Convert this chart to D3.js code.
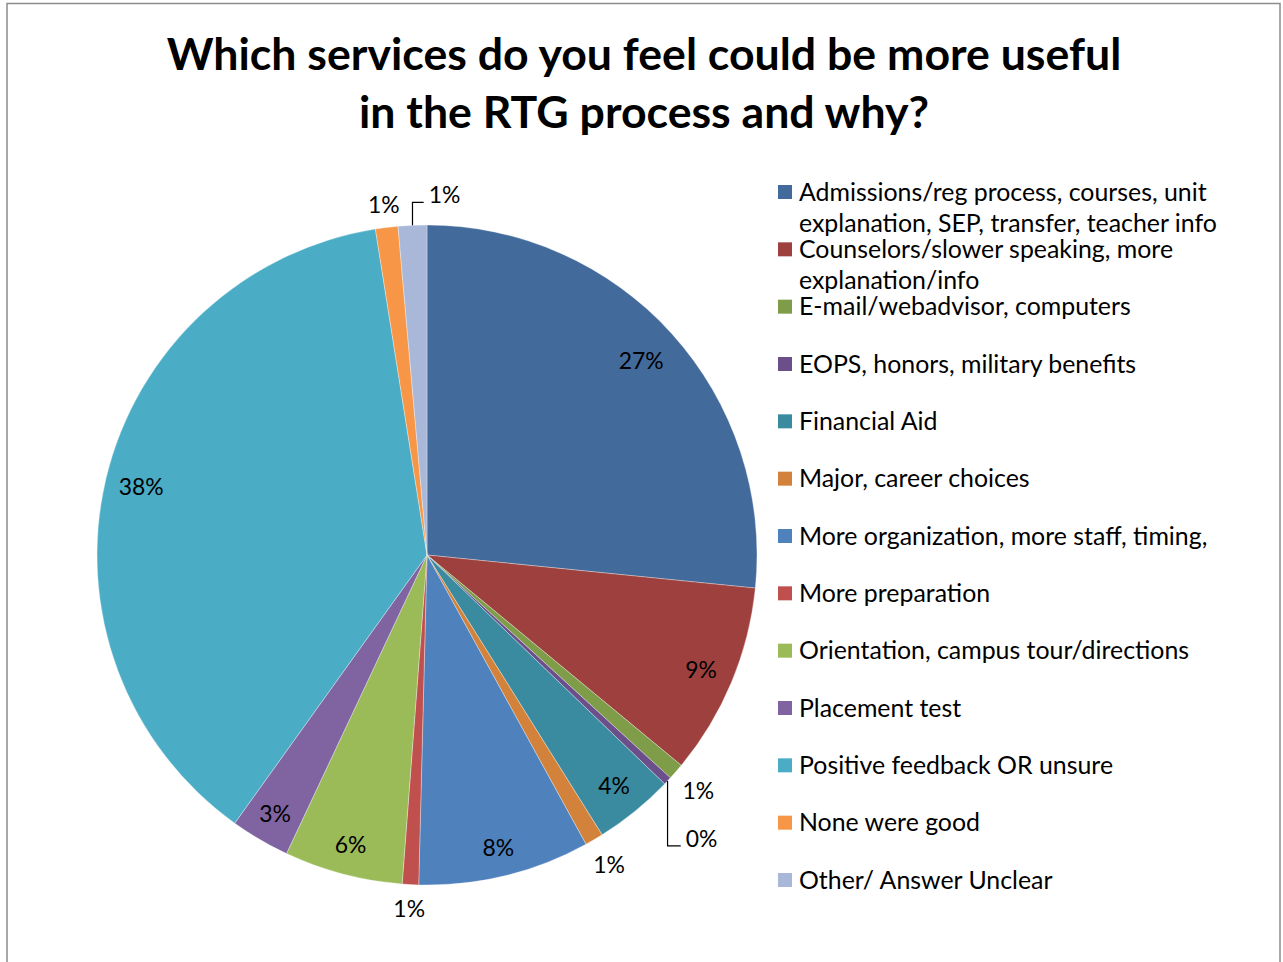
<!DOCTYPE html>
<html>
<head>
<meta charset="utf-8">
<script src="https://cdn.jsdelivr.net/npm/d3@7"></script>
<style>
  body { margin: 0; background: #fff; }
  svg { display: block; }
  text { font-family: Lato, "Open Sans", sans-serif; fill: #000; }
</style>
</head>
<body>
<svg id="chart" width="1283" height="962"></svg>
<script>
// ---- chart content ----
const titleLines = [
  "Which services do you feel could be more useful",
  "in the RTG process and why?"
];

const categories = [
  "Admissions/reg process, courses, unit explanation, SEP, transfer, teacher info",
  "Counselors/slower speaking, more explanation/info",
  "E-mail/webadvisor, computers",
  "EOPS, honors, military benefits",
  "Financial Aid",
  "Major, career choices",
  "More organization, more staff, timing,",
  "More preparation",
  "Orientation, campus tour/directions",
  "Placement test",
  "Positive feedback OR unsure",
  "None were good",
  "Other/ Answer Unclear"
];

// share of responses, percent
const values = [26.6, 9.4, 0.8, 0.4, 3.9, 0.9, 8.4, 0.8, 5.8, 2.9, 37.6, 1.1, 1.4];

const colors = [
  "#426a9b", "#9e413e", "#7f9c48", "#6a4f8b", "#3b8ba0", "#d2823a",
  "#4f81bd", "#c0504d", "#9bbb59", "#8064a2", "#4bacc6", "#f79646", "#a9b8d8"
];

// ---- layout ----
const W = 1283, H = 962;
const cx = 427, cy = 555, R = 330;

// label distance from centre (fraction of radius), per slice
const labelRadius = [0.875, 0.9, 1.09, 1.2, 0.9, 1.09, 0.915, 1.075, 0.91, 0.91, 0.89, 1.07, 1.09];
// slices whose labels sit off to the side on a leader line: offset from the rim point
const leaderOffset = { 3: [34, 58], 12: [32, -30] };

const svg = d3.select("#chart");

// chart frame
svg.append("rect")
  .attr("x", 7).attr("y", 3.5)
  .attr("width", 1273).attr("height", H)
  .attr("fill", "#fff")
  .attr("stroke", "#8c8c8c")
  .attr("stroke-width", 1.5);

// measure helper
const probe = svg.append("text").attr("x", -1000).attr("y", -1000);
function measure(str, size, weight) {
  probe.attr("font-size", size).attr("font-weight", weight || "normal").text(str);
  return probe.node().getComputedTextLength();
}
function fitSize(str, target, weight) {
  const base = 40;
  return base * target / measure(str, base, weight);
}

// ---- title ----
const titleSize = fitSize(titleLines[0], 955, "bold");
const title = svg.append("g");
titleLines.forEach((line, i) => {
  title.append("text")
    .attr("x", 644)
    .attr("y", 70 + i * 58)
    .attr("text-anchor", "middle")
    .attr("font-weight", "bold")
    .attr("font-size", titleSize)
    .text(line);
});

// ---- pie ----
const pie = d3.pie().sort(null).value(d => d)(values);
const total = d3.sum(values);
const fmt = d3.format(".0%");
const arc = d3.arc().innerRadius(0).outerRadius(R);

const g = svg.append("g").attr("transform", `translate(${cx},${cy})`);

g.selectAll("path.slice")
  .data(pie)
  .join("path")
  .attr("class", "slice")
  .attr("d", arc)
  .attr("fill", (d, i) => colors[i])
  .attr("stroke", "rgba(255,255,255,0.55)")
  .attr("stroke-width", 0.6);

const labelSize = fitSize("27%", 45);

function polar(angle, r) {
  return [r * Math.sin(angle), -r * Math.cos(angle)];
}

pie.forEach((d, i) => {
  const mid = (d.startAngle + d.endAngle) / 2;
  const label = fmt(d.value / total);
  let pos;
  if (leaderOffset[i]) {
    const rim = polar(mid, R);
    pos = [rim[0] + leaderOffset[i][0], rim[1] + leaderOffset[i][1]];
    const w = measure(label, labelSize);
    const elbowY = pos[1] + 7;
    const endX = pos[0] - w / 2 - 5;
    g.append("path")
      .attr("d", d3.line()([rim, [rim[0], elbowY], [endX, elbowY]]))
      .attr("fill", "none")
      .attr("stroke", "#000")
      .attr("stroke-width", 1.2);
  } else {
    pos = polar(mid, R * labelRadius[i]);
  }
  g.append("text")
    .attr("x", pos[0])
    .attr("y", pos[1])
    .attr("dy", "0.35em")
    .attr("text-anchor", "middle")
    .attr("font-size", labelSize)
    .text(label);
});

// ---- legend ----
const legendSize = fitSize("explanation, SEP, transfer, teacher info", 418);
const legendMax = 434;
const rowStep = (880 - 192) / 12;

function wrap(str) {
  const words = str.split(" ");
  const lines = [];
  let cur = "";
  words.forEach(wd => {
    const test = cur ? cur + " " + wd : wd;
    if (cur && measure(test, legendSize) > legendMax) {
      lines.push(cur);
      cur = wd;
    } else {
      cur = test;
    }
  });
  if (cur) lines.push(cur);
  return lines;
}

const legend = svg.append("g");
categories.forEach((name, i) => {
  const y = 192 + i * rowStep;
  legend.append("rect")
    .attr("x", 778).attr("y", y - 7)
    .attr("width", 14).attr("height", 14)
    .attr("fill", colors[i]);
  wrap(name).forEach((line, j) => {
    legend.append("text")
      .attr("x", 799)
      .attr("y", y + j * 31)
      .attr("dy", "0.35em")
      .attr("font-size", legendSize)
      .text(line);
  });
});

probe.remove();
</script>
</body>
</html>
